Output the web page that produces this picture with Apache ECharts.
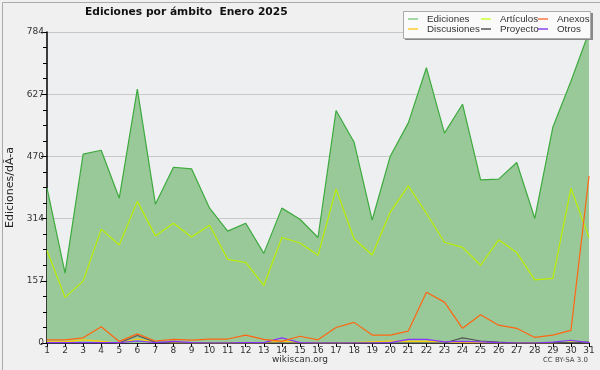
<!DOCTYPE html>
<html>
<head>
<meta charset="utf-8">
<script src="https://cdn.jsdelivr.net/npm/echarts@6/dist/echarts.min.js"></script>
<style>
html,body{margin:0;padding:0;background:#f0f0f0;}
#c{width:600px;height:370px;}
</style>
</head>
<body>
<div id="c"></div>
<script>
var days = ['1','2','3','4','5','6','7','8','9','10','11','12','13','14','15','16','17','18','19','20','21','22','23','24','25','26','27','28','29','30','31'];
var ediciones = [391,176,476,486,365,640,350,443,439,340,282,302,226,340,312,266,586,506,310,471,555,694,529,602,411,413,455,314,544,660,784];
var articulos = [233,115,156,287,247,357,270,302,267,297,211,203,145,266,252,221,388,262,222,330,396,327,254,241,196,260,228,159,163,390,266];
var anexos = [8,8,13,41,4,23,5,9,7,10,10,20,9,4,17,8,39,52,20,20,30,128,103,37,71,45,37,14,20,32,421];
var discusiones = [3,3,8,4,0,10,2,1,0,0,0,0,0,5,1,0,0,1,3,5,4,4,3,1,1,0,0,0,0,2,1];
var proyecto = [0,0,0,0,0,19,2,0,0,0,0,0,0,0,0,0,0,0,0,0,0,0,0,13,5,2,0,0,1,1,2];
var otros = [1,1,1,1,1,5,1,4,1,0,0,1,1,13,1,0,0,0,0,1,9,9,3,4,3,1,0,0,2,7,1];
var yTicks = ['0','157','314','470','627','784'];

var font = 'DejaVu Sans';
var chart = echarts.init(document.getElementById('c'), null, {renderer:'canvas'});

function leg(name, left, top, color) {
  return {
    data:[{name:name, icon:'rect', itemStyle:{color:color, borderWidth:0}, lineStyle:{color:color}}],
    left:left, top:top, orient:'horizontal', z:30,
    itemWidth:10, itemHeight:1.5, itemGap:0, padding:0, selectedMode:false,
    textStyle:{fontFamily:'Liberation Sans', fontSize:9.8, color:'#333', padding:[0,0,0,4]}
  };
}

var option = {
  animation:false,
  backgroundColor:'#f0f0f0',
  title:{text:'Ediciones por ámbito  Enero 2025', left:85, top:7, padding:0,
    textStyle:{fontFamily:font, fontSize:10.7, fontWeight:'bold', color:'#111'}},
  graphic:[
    {type:'rect', left:0, top:0, shape:{width:599, height:369}, style:{fill:'none', stroke:'#aaaaaa', lineWidth:1}, z:-1},
    {type:'rect', left:405, top:13, shape:{width:188, height:27}, style:{fill:'#888888'}, z:10},
    {type:'rect', left:403, top:11, shape:{width:187, height:27}, style:{fill:'#fafafa', stroke:'#aaaaaa', lineWidth:1}, z:10},
    {type:'text', left:'center', top:355, style:{text:'wikiscan.org', fontFamily:font, fontSize:9, fill:'#333'}},
    {type:'text', right:12, top:357, style:{text:'CC BY-SA 3.0', fontFamily:font, fontSize:7, fill:'#444'}}
  ],
  legend:[
    leg('Ediciones', 408, 14, '#88cc88'),
    leg('Discusiones', 408, 24, '#ffcc33'),
    leg('Artículos', 481, 14, '#ccff33'),
    leg('Proyecto', 481, 24, '#555555'),
    leg('Anexos', 538, 14, '#ff7744'),
    leg('Otros', 538, 24, '#8844ee')
  ],
  grid:{left:47, right:11, top:32, bottom:27, show:true, backgroundColor:'#eeeff1', borderWidth:0, containLabel:false, outerBoundsMode:'none'},
  xAxis:{type:'category', data:days, boundaryGap:false,
    axisLine:{lineStyle:{color:'#000', width:1.5}},
    axisTick:{show:true, interval:0, length:4, lineStyle:{color:'#000'}},
    axisLabel:{interval:0, fontFamily:font, fontSize:9, color:'#333', margin:3},
    splitLine:{show:false}},
  yAxis:{type:'value', min:0, max:784, interval:156.8,
    name:'Ediciones/dÃ-a', nameLocation:'middle', nameGap:31,
    nameTextStyle:{fontFamily:font, fontSize:11, color:'#222'},
    axisLine:{show:true, lineStyle:{color:'#000', width:1.5}},
    axisTick:{show:true, length:6, lineStyle:{color:'#000'}},
    minorTick:{show:true, splitNumber:4, length:4, lineStyle:{color:'#000'}},
    axisLabel:{fontFamily:font, fontSize:9, color:'#333', margin:3,
      formatter:function(v, i){ return yTicks[i]; }},
    splitLine:{show:true, lineStyle:{color:'#c8c8c8', width:1}}},
  series:[
    {name:'Ediciones', type:'line', data:ediciones, symbol:'none', z:2,
      lineStyle:{color:'#3daa3d', width:1.2}, itemStyle:{color:'#88cc88'},
      areaStyle:{color:'#99c999', opacity:1}},
    {name:'Artículos', type:'line', data:articulos, symbol:'none', z:3,
      lineStyle:{color:'#bbee00', width:1.2}, itemStyle:{color:'#ccff33'}},
    {name:'Discusiones', type:'line', data:discusiones, symbol:'none', z:3,
      lineStyle:{color:'#ffcc00', width:1.2}, itemStyle:{color:'#ffcc33'}},
    {name:'Proyecto', type:'line', data:proyecto, symbol:'none', z:3,
      lineStyle:{color:'#555555', width:1.2}, itemStyle:{color:'#555555'}},
    {name:'Otros', type:'line', data:otros, symbol:'none', z:3,
      lineStyle:{color:'#8833ff', width:1.2}, itemStyle:{color:'#8844ee'}},
    {name:'Anexos', type:'line', data:anexos, symbol:'none', z:4,
      lineStyle:{color:'#ff6611', width:1.2}, itemStyle:{color:'#ff7744'}}
  ]
};
chart.setOption(option);
</script>
</body>
</html>
